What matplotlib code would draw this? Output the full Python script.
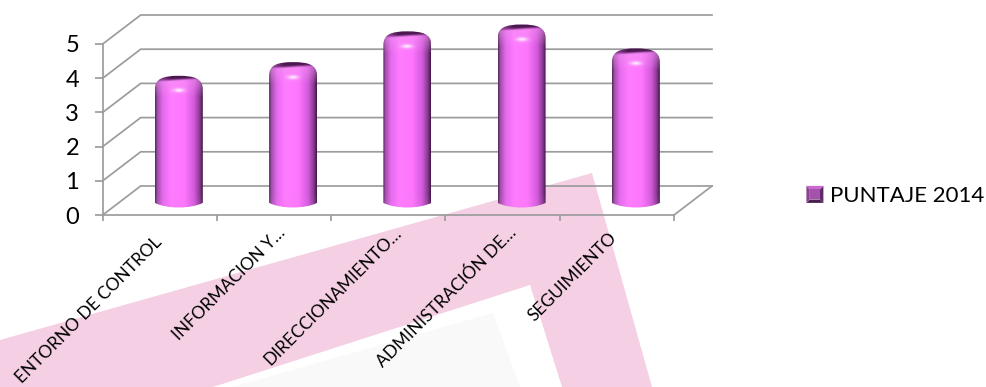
import numpy as np
import matplotlib
matplotlib.use('Agg')
import matplotlib.pyplot as plt
from matplotlib.colors import LinearSegmentedColormap
from matplotlib.legend_handler import HandlerBase
from matplotlib.patches import PathPatch, Polygon
from matplotlib.path import Path

plt.rcParams['font.family'] = ['Lato', 'DejaVu Sans']

categorias = ['ENTORNO DE CONTROL', 'INFORMACION Y…', 'DIRECCIONAMIENTO…',
              'ADMINISTRACIÓN DE…', 'SEGUIMIENTO']
puntaje = [3.5, 3.9, 4.8, 5.0, 4.3]
serie = 'PUNTAJE 2014'
marcas_y = [0, 1, 2, 3, 4, 5]

W, H = 986, 387
fig = plt.figure(figsize=(W / 100, H / 100), dpi=100)


def fp(pts):
    return [(x / W, 1 - y / H) for x, y in pts]


# marca de agua del fondo
fig.add_artist(Polygon(fp([(0, 340), (592, 173), (652, 387), (0, 387)]),
                       closed=True, fc='#f5cfe3', ec='none', zorder=0))
fig.add_artist(Polygon(fp([(213, 387), (530, 285), (562, 387)]),
                       closed=True, fc='white', ec='none', zorder=0))
fig.add_artist(Polygon(fp([(233, 387), (493, 313), (520, 387)]),
                       closed=True, fc='#f9f9f9', ec='none', zorder=0))

ax = fig.add_axes([102.7 / W, 1 - 215 / H, 571.3 / W, 171 / H])
ax.patch.set_alpha(0)
ax.set_xlim(0, 5)
ax.set_ylim(0, 5)

gris = '#9c9c9c'
lw = 1.25
dx = 38 / 114.26   # profundidad en unidades de categoria
dy = 29 / 34.2     # profundidad en unidades de valor

for k in marcas_y:
    ax.plot([0, dx, 5 + dx], [k, k + dy, k + dy], color=gris, lw=lw,
            clip_on=False, zorder=1, solid_joinstyle='miter')
ax.plot([5, 5 + dx], [0, dy], color=gris, lw=lw, clip_on=False, zorder=1)

for s in ['top', 'right']:
    ax.spines[s].set_visible(False)
for s in ['left', 'bottom']:
    ax.spines[s].set_color(gris)
    ax.spines[s].set_linewidth(lw)
ax.set_yticks(marcas_y)
ax.set_xticks(range(6))
ax.set_xticklabels([])
ax.tick_params(axis='y', length=6, width=lw, color=gris, pad=11, labelsize=17,
               labelcolor='black')
ax.tick_params(axis='x', length=4, width=lw, color=gris)

# degradado horizontal del cilindro
perfil = LinearSegmentedColormap.from_list('cil', [
    (0.00, '#5a2a60'), (0.04, '#a04fa8'), (0.16, '#e66aee'), (0.34, '#ff7cff'),
    (0.62, '#fd76fd'), (0.82, '#d45adc'), (0.94, '#8a3a92'), (1.00, '#43194a')])

ancho = 0.21
base = dy / 2
ry = 5 / 34.2
ny, nx = 300, 70


def contorno(xc, yt):
    x0, x1 = xc - ancho, xc + ancho
    y0 = base - 0.07
    hombro = yt - 0.40
    verts = [(x0, y0), (x0, hombro), (x0, yt - 0.08), (xc - ancho * 0.65, yt), (xc, yt),
             (xc + ancho * 0.65, yt), (x1, yt - 0.08), (x1, hombro), (x1, y0),
             (xc + ancho * 0.5, y0 - 0.18), (xc - ancho * 0.5, y0 - 0.18), (x0, y0),
             (x0, y0)]
    cods = [Path.MOVETO, Path.LINETO, Path.CURVE4, Path.CURVE4, Path.CURVE4,
            Path.CURVE4, Path.CURVE4, Path.CURVE4, Path.LINETO,
            Path.CURVE4, Path.CURVE4, Path.CURVE4, Path.CLOSEPOLY]
    return Path(verts, cods)


for i, v in enumerate(puntaje):
    xc = i + 0.5 + dx / 2
    yt = v + base + ry
    ybot = base - 0.28
    # imagen en y de arriba a abajo, en pixeles desde la tapa
    alto_px = (yt - ybot) * 34.2
    yy, uu = np.mgrid[0:alto_px:ny * 1j, 0:1:nx * 1j]
    img = perfil(uu)[..., :3]
    banda = np.clip(1 - (yy - 8) / 14, 0, 1)[..., None] * 0.4
    img = img * (1 - banda) + np.array([0.95, 0.60, 0.95]) * banda
    brillo = np.exp(-(((uu - 0.5) * 48 / 5.5) ** 2 + ((yy - 15) / 2.0) ** 2))[..., None]
    img = img * (1 - brillo) + np.array([1, 0.93, 1]) * brillo
    abajo = np.clip((yy - (alto_px - 16)) / 16, 0, 1)[..., None] * 0.18
    img = img * (1 - abajo) + np.array([0.93, 0.5, 0.93]) * abajo
    # tapa oscura, un poco inclinada
    tapa = np.clip((5.5 - (uu - 0.5) * 3 - yy) / 2.5, 0, 1)[..., None]
    tapa = tapa * np.clip(1.5 - np.abs(uu - 0.58) * 1.9, 0, 1)[..., None]
    img = img * (1 - tapa) + np.array([0.30, 0.09, 0.32]) * tapa

    forma = PathPatch(contorno(xc, yt), transform=ax.transData, fc='none', ec='none')
    ax.add_patch(forma)
    im = ax.imshow(img, extent=(xc - ancho, xc + ancho, ybot, yt), aspect='auto',
                   origin='upper', zorder=3, interpolation='bilinear')
    im.set_clip_box(fig.bbox)
    im.set_clip_path(forma)

ax.set_xlim(0, 5)
ax.set_ylim(0, 5)

# etiquetas giradas, cada una desplazada como en el original
corr_x = [0, 9, 11, 11, -3]
corr_y = [-25, -15, -15, -15, -20]
for i, c in enumerate(categorias):
    ax.annotate(c, xy=(i + 0.5, 0), xycoords='data',
                xytext=(corr_x[i] * 0.72, corr_y[i] * 0.72), textcoords='offset points',
                rotation=45, rotation_mode='anchor', ha='right', va='center',
                fontsize=12.4, color='black', annotation_clip=False)


class CuadroBisel(HandlerBase):
    def create_artists(self, legend, orig, xd, yd, w, h, fontsize, trans):
        x0, y0 = -xd + (w - h) / 2, -yd
        e = h * 0.2
        ext = [(x0, y0), (x0 + h, y0), (x0 + h, y0 + h), (x0, y0 + h)]
        inn = [(x0 + e, y0 + e), (x0 + h - e, y0 + e), (x0 + h - e, y0 + h - e), (x0 + e, y0 + h - e)]
        tonos = ['#4a1f50', '#5f2a66', '#c968d0', '#8d4394']
        res = []
        for j, t in enumerate(tonos):
            k = (j + 1) % 4
            res.append(Polygon([ext[j], ext[k], inn[k], inn[j]], closed=True, fc=t, ec='none', transform=trans))
        res.append(Polygon(inn, closed=True, fc='#a552ac', ec='none', transform=trans))
        return res


h_leg = Polygon([(0, 0), (1, 1)])
fig.legend([h_leg], [serie], loc='center left', bbox_to_anchor=(806 / W, 1 - 196 / H),
           frameon=False, fontsize=16, handler_map={Polygon: CuadroBisel()},
           handlelength=0.8, handleheight=0.8, handletextpad=0.28, borderpad=0, borderaxespad=0)

fig.savefig('out.png', dpi=100)
